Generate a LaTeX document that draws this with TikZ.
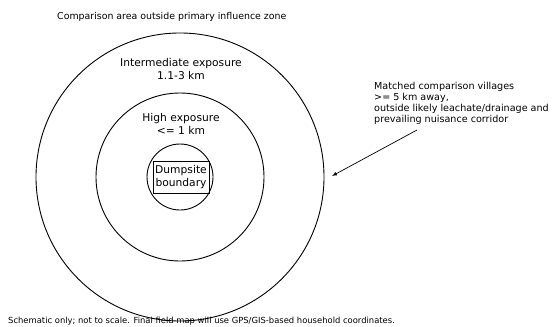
\documentclass[tikz,border=0pt]{standalone}
\usepackage{fontspec}
\setmainfont{DejaVu Sans}
\usepackage{tikz}

\tikzset{
	ring/.style = {line width=.9pt},
	zonelabel/.style = {align=center, font=\fontsize{10.7}{12.5}\selectfont, inner sep=0pt},
	notelabel/.style = {font=\fontsize{9.4}{11}\selectfont, inner sep=0pt},
	sitebox/.style = {draw, line width=.9pt, align=center, minimum width=56pt, minimum height=32pt, inner sep=0pt, font=\fontsize{10.7}{12.5}\selectfont}
}

\begin{document}
\begin{tikzpicture}[x=1pt, y=-1pt]
	\useasboundingbox (0,0) rectangle (553,326);
	\coordinate (centre) at (180,177);
	\draw [ring] (centre) circle [radius = 144];
	\draw [ring] (centre) circle [radius = 84];
	\draw [ring] (centre) circle [radius = 33];
	\node [sitebox] (dump) at (181,177) {Dumpsite\\boundary};
	\node [zonelabel] (inter) at (181,69) {Intermediate exposure\\1.1-3 km};
	\node [zonelabel] (high) at (181,124) {High exposure\\<= 1 km};
	\node [notelabel, anchor=west] (title) at (57,17) {Comparison area outside primary influence zone};
	\node [notelabel, anchor=north west, align=left, font=\fontsize{9.6}{11}\selectfont] (villages) at (374,82) {Matched comparison villages\\>= 5 km away,\\outside likely leachate/drainage and\\prevailing nuisance corridor};
	\coordinate (tail) at (417,130);
	\coordinate (tip) at (332,176);
	\draw [-latex, line width=.7pt] (tail) -- (tip);
	\node [notelabel, anchor=west, font=\fontsize{8.4}{10}\selectfont] (footer) at (8,321) {Schematic only; not to scale. Final field map will use GPS/GIS-based household coordinates.};
\end{tikzpicture}
\end{document}
